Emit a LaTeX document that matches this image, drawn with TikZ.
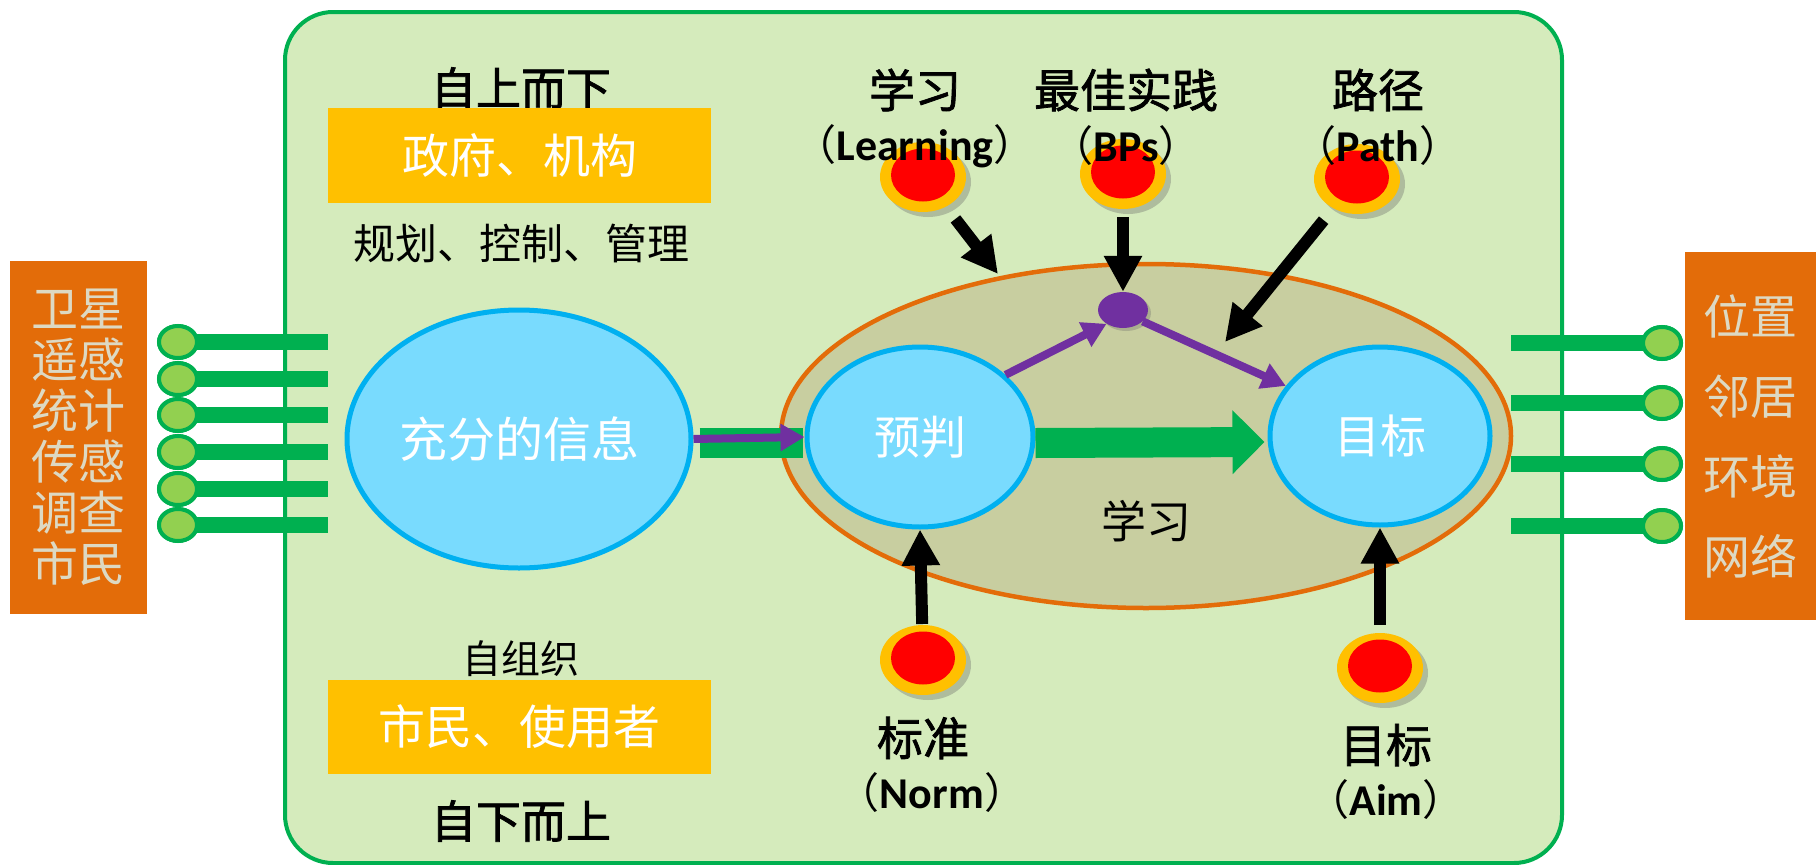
\documentclass[tikz,border=0pt]{standalone}
\usepackage{fontspec}
\newfontfamily\cjk{Noto Sans CJK SC}
\newfontfamily\cjkm[FakeBold=1.6]{Noto Sans CJK SC}
\newfontfamily\lat{Carlito}
\usetikzlibrary{shapes.geometric,arrows.meta,shadows}
\definecolor{frameG}{HTML}{00B050}
\definecolor{bgG}{HTML}{D5EBBC}
\definecolor{orgB}{HTML}{E36C09}
\definecolor{cream}{HTML}{DDD9C3}
\definecolor{dotG}{HTML}{92D050}
\definecolor{gold}{HTML}{FFC000}
\definecolor{cyanF}{HTML}{79DBFE}
\definecolor{cyanB}{HTML}{00B0F0}
\definecolor{oliveF}{HTML}{C8CEA0}
\definecolor{purp}{HTML}{7030A0}
\newcommand\fsz[1]{\fontsize{#1}{#1}\selectfont}
\begin{document}
\begin{tikzpicture}[x=1pt,y=-1pt,
  conn/.style={ellipse,minimum width=38pt,minimum height=32pt,inner sep=0pt,fill=dotG,draw=frameG,line width=4pt},
  sbar/.style={frameG,line width=16pt},
  sidebox/.style={rectangle,fill=orgB,inner sep=0pt,text=cream,align=center},
  goldbox/.style={rectangle,fill=gold,inner sep=0pt,text=white,font=\cjk\fsz{47}},
  cyell/.style={ellipse,inner sep=0pt,fill=cyanF,draw=cyanB,line width=5pt,text=white},
  rdot/.style={ellipse,minimum width=86pt,minimum height=70pt,inner sep=0pt,fill=gold,
     drop shadow={shadow xshift=5pt,shadow yshift=-5pt,fill=black!60,opacity=0.35}},
  rin/.style={ellipse,minimum width=64pt,minimum height=53pt,inner sep=0pt,fill=red},
  blk/.style={draw=black,line width=12pt,-{Triangle[length=36pt,width=36pt]}},
  pur/.style={draw=purp,line width=8pt,-{Triangle[length=24pt,width=26pt]},purp},
  lbl/.style={inner sep=0pt,text=black},
  cjkb/.style={font=\cjkm\fsz{46}}
]
\useasboundingbox (0,0) rectangle (1816,865);

% main frame
\node[rectangle,rounded corners=48pt,draw=frameG,fill=bgG,line width=4pt,
      minimum width=1277pt,minimum height=851pt,inner sep=0pt] (frame) at (923.5,437.5) {};

% side boxes
\node[sidebox,minimum width=137pt,minimum height=353pt,font=\cjk\fontsize{47}{51}\selectfont] (lbox) at (78.5,437.5)
  {卫星\\遥感\\统计\\传感\\调查\\市民};
\node[sidebox,minimum width=131pt,minimum height=368pt,font=\cjk\fontsize{47}{80}\selectfont] (rbox) at (1750.5,436)
  {位置\\邻居\\环境\\网络};

% left connectors
\foreach \i/\yy in {1/342,2/379,3/415,4/452,5/489,6/525}{
  \node[conn] (lc\i) at (178,\yy) {};
  \coordinate (lb\i) at (328,\yy);
  \draw[sbar] (lc\i.center) -- (lb\i);
  \node[conn] at (lc\i) {};
}
% right connectors
\foreach \i/\yy in {1/343,2/403,3/464,4/526}{
  \node[conn] (rc\i) at (1662,\yy) {};
  \coordinate (rb\i) at (1511,\yy);
  \draw[sbar] (rb\i) -- (rc\i.center);
  \node[conn] at (rc\i) {};
}

% left column texts
\node[lbl,font=\cjkm\fsz{45}] (tdown) at (521,88) {自上而下};
\node[goldbox,minimum width=383pt,minimum height=95pt] (gov) at (519.5,155.5) {政府、机构};
\node[lbl,font=\cjk\fsz{42}] (plan) at (521,243) {规划、控制、管理};
\node[lbl,font=\cjk\fsz{39}] (self) at (521,659) {自组织};
\node[goldbox,minimum width=383pt,minimum height=94pt] (cit) at (519.5,727) {市民、使用者};
\node[lbl,font=\cjkm\fsz{45}] (tup) at (521,821) {自下而上};

% big ellipses
\node[ellipse,inner sep=0pt,fill=oliveF,draw=orgB,line width=4.5pt,minimum width=730pt,minimum height=344pt] (learn) at (1146,436) {};
\node[cyell,minimum width=344pt,minimum height=258pt,font=\cjk\fsz{48}] (xi) at (519,439) {充分的信息};
\node[cyell,minimum width=226pt,minimum height=180pt,font=\cjk\fsz{46}] (yp) at (920,437) {预判};
\node[cyell,minimum width=220pt,minimum height=178pt,font=\cjk\fsz{46}] (mb) at (1380,436) {目标};
\node[lbl,font=\cjk\fsz{45}] (lx) at (1146,521) {学习};

% purple dot
\node[ellipse,minimum width=50pt,minimum height=36pt,inner sep=0pt,fill=purp,
      drop shadow={shadow xshift=3pt,shadow yshift=-3pt,fill=black!60,opacity=0.3}] (bp) at (1123,310) {};

% green connectors
\draw[frameG,line width=30pt,shorten <=6pt,shorten >=2pt] ([yshift=-4pt]xi.east) -- ([yshift=-6pt]yp.west);
\draw[frameG,line width=30pt,-{Triangle[length=32pt,width=62pt]},shorten >=3pt] ([yshift=-6pt]yp.east) -- ([yshift=-6pt]mb.west);

% purple arrows
\draw[pur] (xi.east) -- (yp.west);
\draw[pur] (yp.36) -- (bp.220);
\draw[pur] (bp.-30) -- (mb.152);

% red dots
\node[rdot] (dL) at (923,177) {};
\node[rin] at ([yshift=2pt]dL.center) {};
\node[rdot] (dB) at (1123,174) {};
\node[rin] at ([yshift=2pt]dB.center) {};
\node[rdot] (dP) at (1357,179) {};
\node[rin] at ([yshift=2pt]dP.center) {};
\node[rdot] (dN) at (923,660) {};
\node[rin] at ([yshift=2pt]dN.center) {};
\node[rdot] (dA) at (1380,668) {};
\node[rin] at ([yshift=2pt]dA.center) {};

% black arrows
\coordinate (lEnd) at (998,274);
\coordinate (pEnd) at (1225,342);
\draw[blk,shorten <=53pt] (dL.center) -- (lEnd);
\draw[blk,shorten <=43pt] (dB.center) -- (bp.north);
\draw[blk,shorten <=53pt] (dP.center) -- (pEnd);
\draw[blk,shorten <=36pt] (dN.center) -- (yp.south);
\draw[blk,shorten <=43pt] (dA.center) -- (mb.south);

% labels
\node[lbl,cjkb] (tL1) at (915,90) {学习};
\node[lbl] (tL2) at (915,146) {{\cjk\fsz{42}（}{\lat\bfseries\fsz{44}Learning}{\cjk\fsz{42}）}};
\node[lbl,cjkb] (tB1) at (1126,90) {最佳实践};
\node[lbl] (tB2) at (1126,146) {{\cjk\fsz{42}（}{\lat\bfseries\fsz{44}BPs}{\cjk\fsz{42}）}};
\node[lbl,cjkb] (tP1) at (1378,90) {路径};
\node[lbl] (tP2) at (1378,146) {{\cjk\fsz{42}（}{\lat\bfseries\fsz{44}Path}{\cjk\fsz{42}）}};
\node[lbl,cjkb] (tN1) at (923,738) {标准};
\node[lbl] (tN2) at (932,793) {{\cjk\fsz{42}（}{\lat\bfseries\fsz{44}Norm}{\cjk\fsz{42}）}};
\node[lbl,cjkb] (tA1) at (1386,745) {目标};
\node[lbl] (tA2) at (1386,800) {{\cjk\fsz{42}（}{\lat\bfseries\fsz{44}Aim}{\cjk\fsz{42}）}};
\end{tikzpicture}
\end{document}
